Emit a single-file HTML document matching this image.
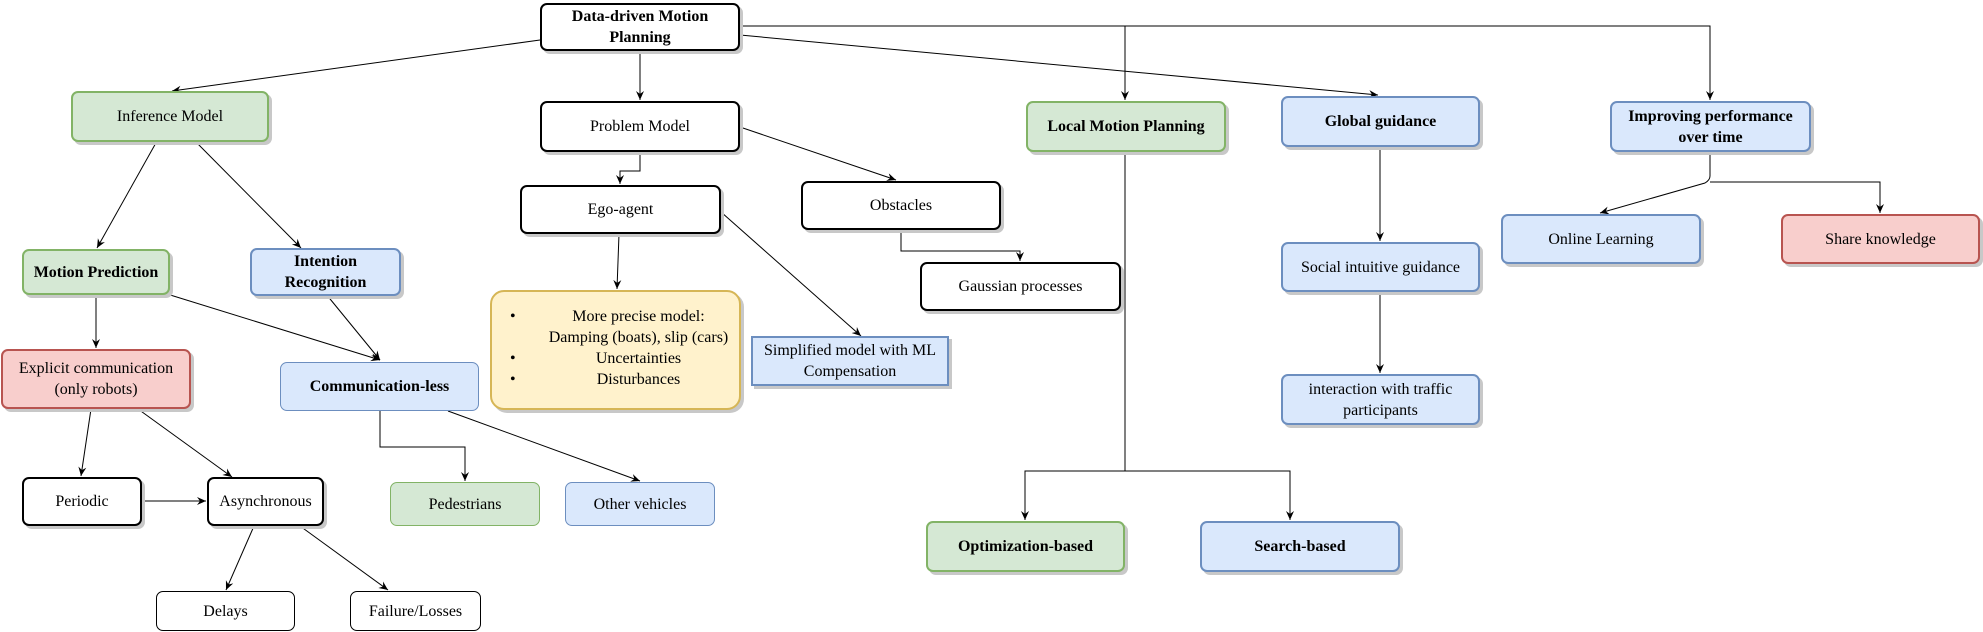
<!DOCTYPE html>
<html><head><meta charset="utf-8"><style>
body{margin:0;width:1983px;height:632px;background:#fff;position:relative;overflow:hidden;font-family:"Liberation Serif",serif;}
.b{position:absolute;box-sizing:border-box;display:flex;align-items:center;justify-content:center;text-align:center;font-size:16px;line-height:21px;border-radius:7px;border:2px solid #000;background:#fff;box-shadow:3px 3px 0 #c8c8c8;color:#000;}
.bo{font-weight:bold;}
.g{background:#d5e8d4;border-color:#82b366;}
.bl{background:#dae8fc;border-color:#6c8ebf;}
.r{background:#f8cecc;border-color:#b85450;}
.y{background:#fff2cc;border-color:#d6b656;border-radius:14px;}
.thin{border-width:1px;box-shadow:none;}
svg{position:absolute;left:0;top:0;}
</style></head><body>
<svg width="1983" height="632">
<defs><marker id="a" markerWidth="10" markerHeight="10" refX="9" refY="5" orient="auto" markerUnits="userSpaceOnUse"><path d="M0,1 L9,5 L0,9 L3,5 z" fill="#000"/></marker></defs>
<g stroke="#000" stroke-width="1" fill="none" marker-end="url(#a)">
<path d="M540,40 L172,91"/>
<path d="M640,51 L640,100"/>
<path d="M740,26 L1125,26 L1125,100"/>
<path d="M1125,26 L1710,26 L1710,100"/>
<path d="M740,35 L1378,95"/>
<path d="M640,152 L640,171 L620,171 L620,184"/>
<path d="M740,127 L896,180"/>
<path d="M901,230 L901,251 L1020,251 L1020,261"/>
<path d="M619,234 L617,289"/>
<path d="M721,212 L861,336"/>
<path d="M1125,152 L1125,471 L1025,471 L1025,520"/>
<path d="M1125,471 L1290,471 L1290,520"/>
<path d="M1380,147 L1380,241"/>
<path d="M1380,292 L1380,373"/>
<path d="M1710,152 L1710,176 Q1710,180 1705,183 L1600,213"/>
<path d="M1710,182 L1880,182 L1880,213"/>
<path d="M157,141 L97,248"/>
<path d="M195,141 L301,248"/>
<path d="M96,295 L96,348"/>
<path d="M167,294 L380,360"/>
<path d="M326,294 L380,360"/>
<path d="M91,409 L81,476"/>
<path d="M138,409 L232,477"/>
<path d="M142,501 L206,501"/>
<path d="M254,526 L226,590"/>
<path d="M300,526 L388,590"/>
<path d="M380,411 L380,447 L465,447 L465,481"/>
<path d="M448,411 L640,481"/>
</g></svg>

<div class="b bo" style="left:540px;top:3px;width:200px;height:48px;">Data-driven Motion<br>Planning</div>
<div class="b g" style="left:71px;top:91px;width:198px;height:51px;">Inference Model</div>
<div class="b" style="left:540px;top:101px;width:200px;height:51px;">Problem Model</div>
<div class="b" style="left:520px;top:185px;width:201px;height:49px;">Ego-agent</div>
<div class="b" style="left:801px;top:181px;width:200px;height:49px;">Obstacles</div>
<div class="b" style="left:920px;top:262px;width:201px;height:49px;">Gaussian processes</div>
<div class="b y" style="left:490px;top:290px;width:251px;height:120px;"></div>
<div style="position:absolute;left:490px;top:306px;width:251px;font-size:16px;line-height:21px;text-align:center;">
<div style="position:relative;padding-left:50px;padding-right:4px;">More precise model:<br>Damping (boats), slip (cars)<span style="position:absolute;left:20px;top:0;">&#8226;</span></div>
<div style="position:relative;padding-left:50px;padding-right:4px;">Uncertainties<span style="position:absolute;left:20px;top:0;">&#8226;</span></div>
<div style="position:relative;padding-left:50px;padding-right:4px;">Disturbances<span style="position:absolute;left:20px;top:0;">&#8226;</span></div>
</div>
<div class="b bl" style="left:751px;top:336px;width:198px;height:50px;border-radius:0;">Simplified model with ML<br>Compensation</div>
<div class="b g bo" style="left:1026px;top:101px;width:200px;height:51px;">Local Motion Planning</div>
<div class="b bl bo" style="left:1281px;top:96px;width:199px;height:51px;">Global guidance</div>
<div class="b bl bo" style="left:1610px;top:101px;width:201px;height:51px;">Improving performance<br>over time</div>
<div class="b bl" style="left:1501px;top:214px;width:200px;height:50px;">Online Learning</div>
<div class="b r" style="left:1781px;top:214px;width:199px;height:50px;">Share knowledge</div>
<div class="b bl" style="left:1281px;top:242px;width:199px;height:50px;">Social intuitive guidance</div>
<div class="b bl" style="left:1281px;top:374px;width:199px;height:51px;">interaction with traffic<br>participants</div>
<div class="b g bo" style="left:926px;top:521px;width:199px;height:51px;">Optimization-based</div>
<div class="b bl bo" style="left:1200px;top:521px;width:200px;height:51px;">Search-based</div>
<div class="b g bo" style="left:22px;top:249px;width:148px;height:46px;">Motion Prediction</div>
<div class="b bl bo" style="left:250px;top:248px;width:151px;height:48px;">Intention<br>Recognition</div>
<div class="b r" style="left:1px;top:349px;width:190px;height:60px;">Explicit communication<br>(only robots)</div>
<div class="b bl bo thin" style="left:280px;top:362px;width:199px;height:49px;">Communication-less</div>
<div class="b" style="left:22px;top:477px;width:120px;height:49px;border-width:2.5px;">Periodic</div>
<div class="b" style="left:207px;top:477px;width:117px;height:49px;">Asynchronous</div>
<div class="b g thin" style="left:390px;top:482px;width:150px;height:44px;">Pedestrians</div>
<div class="b bl thin" style="left:565px;top:482px;width:150px;height:44px;">Other vehicles</div>
<div class="b thin" style="left:156px;top:591px;width:139px;height:40px;">Delays</div>
<div class="b thin" style="left:350px;top:591px;width:131px;height:40px;">Failure/Losses</div>
</body></html>
